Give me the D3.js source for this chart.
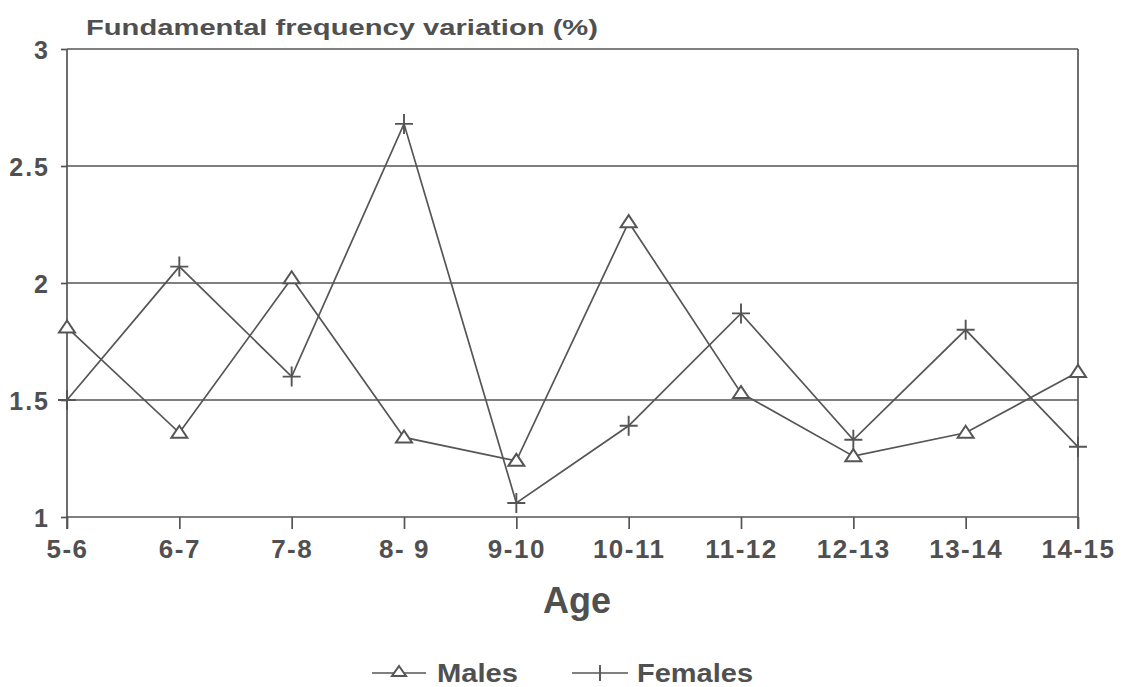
<!DOCTYPE html>
<html><head><meta charset="utf-8">
<script src="https://cdn.jsdelivr.net/npm/d3@7"></script>
<style>body{margin:0;background:#fff}svg{display:block}text{font-family:"Liberation Sans",Arial,sans-serif;font-weight:bold;fill:#505050}</style>
</head><body><svg id="c" width="1127" height="687"></svg>
<script>
const categories = ["5-6","6-7","7-8","8- 9","9-10","10-11","11-12","12-13","13-14","14-15"];
const males   = [1.81,1.36,2.02,1.34,1.24,2.26,1.53,1.26,1.36,1.62];
const females = [1.50,2.07,1.60,2.68,1.06,1.39,1.87,1.33,1.80,1.30];
const yTicks = [1,1.5,2,2.5,3];
const yTickLabels = ["1","1.5","2","2.5","3"];
const titleText = "Fundamental frequency variation (%)";
const xTitle = "Age";
const seriesNames = ["Males","Females"];

const svg = d3.select("#c");
const L=67,R=1078,T=49,B=517;
const col="#555";
const x = d3.scalePoint().domain(categories).range([L,R]);
const y = d3.scaleLinear().domain([1,3]).range([B,T]);

// gridlines
svg.append("g").selectAll("line").data(yTicks).join("line")
  .attr("x1",L).attr("x2",R).attr("y1",d=>y(d)).attr("y2",d=>y(d))
  .attr("stroke",col).attr("stroke-width",1.7);
// frame right
svg.append("line").attr("x1",R).attr("x2",R).attr("y1",T).attr("y2",B+12).attr("stroke",col).attr("stroke-width",1.7);

// y axis
const ya = svg.append("g").attr("transform",`translate(${L},0)`)
  .call(d3.axisLeft(y).tickValues(yTicks).tickFormat((d,i)=>yTickLabels[i]).tickSize(6).tickPadding(11));
ya.select(".domain").attr("stroke",col).attr("stroke-width",1.7).attr("d",`M0,${T}V${B+12}`);
ya.selectAll(".tick line").attr("stroke",col).attr("stroke-width",1.7);
ya.selectAll(".tick text").style("font-size","25px").style("letter-spacing","2px").attr("dy","0.36em").attr("fill","#505050");

// x axis
const xa = svg.append("g").attr("transform",`translate(0,${B})`)
  .call(d3.axisBottom(x).tickSize(12).tickPadding(11));
xa.select(".domain").remove();
xa.selectAll(".tick line").attr("stroke",col).attr("stroke-width",1.7);
xa.selectAll(".tick text").style("font-size","26px").style("letter-spacing","1.5px").attr("fill","#505050").attr("dy","0.71em");

// title
svg.append("text").attr("x",86).attr("y",35).style("font-size","22px")
  .attr("textLength",512).attr("lengthAdjust","spacingAndGlyphs").text(titleText);
svg.append("text").attr("x",577).attr("y",613).attr("text-anchor","middle").style("font-size","36px").text(xTitle);

const line = d3.line().x((d,i)=>x(categories[i])).y(d=>y(d));
svg.append("path").datum(males).attr("d",line).attr("fill","none").attr("stroke",col).attr("stroke-width",1.7);
svg.append("path").datum(females).attr("d",line).attr("fill","none").attr("stroke",col).attr("stroke-width",1.7);

const tri = "M0,-7L8,5L-8,5Z";
const plus = "M-9,0H9M0,-10V10";
svg.append("g").selectAll("path").data(males).join("path")
  .attr("transform",(d,i)=>`translate(${x(categories[i])},${y(d)})`)
  .attr("d",tri).attr("fill","#fff").attr("stroke",col).attr("stroke-width",2);
svg.append("g").selectAll("path").data(females).join("path")
  .attr("transform",(d,i)=>`translate(${x(categories[i])},${y(d)})`)
  .attr("d",plus).attr("fill","none").attr("stroke",col).attr("stroke-width",1.9);

// legend
const ly=673;
const lg=svg.append("g");
lg.append("line").attr("x1",372).attr("x2",426).attr("y1",ly).attr("y2",ly).attr("stroke",col).attr("stroke-width",1.7);
lg.append("path").attr("transform",`translate(399,${ly-1})`).attr("d","M0,-6L7,4L-7,4Z").attr("fill","#fff").attr("stroke",col).attr("stroke-width",2);
lg.append("text").attr("x",437).attr("y",ly+9).style("font-size","25px")
  .attr("textLength",81).attr("lengthAdjust","spacingAndGlyphs").text(seriesNames[0]);
lg.append("line").attr("x1",572).attr("x2",628).attr("y1",ly).attr("y2",ly).attr("stroke",col).attr("stroke-width",1.7);
lg.append("path").attr("transform",`translate(600,${ly})`).attr("d","M0,-8V8").attr("stroke",col).attr("stroke-width",1.9);
lg.append("text").attr("x",637).attr("y",ly+9).style("font-size","25px")
  .attr("textLength",116).attr("lengthAdjust","spacingAndGlyphs").text(seriesNames[1]);
</script></body></html>
